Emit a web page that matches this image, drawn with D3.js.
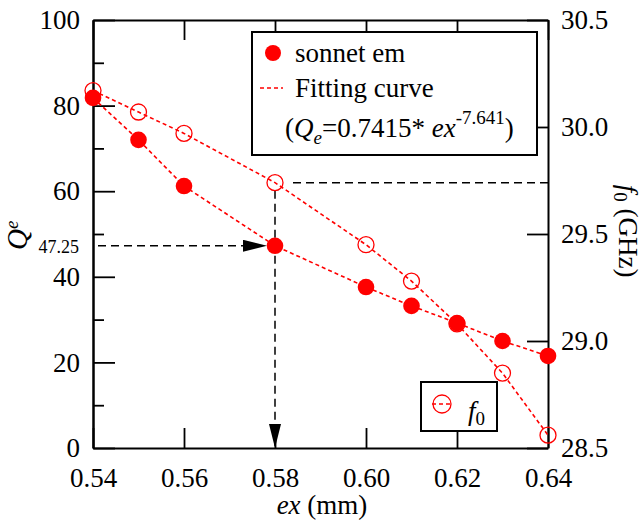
<!DOCTYPE html>
<html>
<head>
<meta charset="utf-8">
<script src="https://cdn.jsdelivr.net/npm/d3@7"></script>
</head>
<body style="margin:0; background:#fff">
<div id="chart"></div>
<script>
// data
const exVals = [0.54, 0.55, 0.56, 0.58, 0.60, 0.61, 0.62, 0.63, 0.64];
const qeVals = [81.8, 72.0, 61.2, 47.25, 37.6, 33.2, 29.2, 25.0, 21.5];
const f0Vals = [30.17, 30.07, 29.97, 29.74, 29.45, 29.28, 29.08, 28.85, 28.56];

const xTicks = [0.54, 0.56, 0.58, 0.60, 0.62, 0.64];
const leftTicks = [0, 20, 40, 60, 80, 100];
const leftMinor = [10, 30, 50, 70, 90];
const rightTicks = [28.5, 29.0, 29.5, 30.0, 30.5];

// marked point
const markEx = 0.58;
const markQe = 47.25;
const markF0 = 29.74;

const w = 643, h = 523;
const padL = 93, padR = 548, padT = 20, padB = 448;

const svg = d3.select("#chart").append("svg")
  .attr("width", w).attr("height", h);

const x = d3.scaleLinear().domain([0.54, 0.64]).range([padL, padR]);
const yL = d3.scaleLinear().domain([0, 100]).range([padB, padT]);
const yR = d3.scaleLinear().domain([28.5, 30.5]).range([padB, padT]);

const red = "#ff0000";

// axes
svg.append("g")
  .attr("transform", "translate(0," + padB + ")")
  .call(d3.axisBottom(x).tickValues(xTicks).tickSize(-20).tickSizeOuter(0)
    .tickPadding(20).tickFormat(d3.format(".2f")));

svg.append("g")
  .attr("transform", "translate(0," + padT + ")")
  .call(d3.axisTop(x).tickValues(xTicks).tickSize(-20).tickSizeOuter(0)
    .tickFormat(""));

svg.append("g")
  .attr("transform", "translate(" + padL + ",0)")
  .call(d3.axisLeft(yL).tickValues(leftTicks).tickSize(-22).tickSizeOuter(0)
    .tickPadding(13));

svg.append("g")
  .attr("transform", "translate(" + padL + ",0)")
  .call(d3.axisLeft(yL).tickValues(leftMinor).tickSize(-11).tickSizeOuter(0)
    .tickFormat(""));

svg.append("g")
  .attr("transform", "translate(" + padR + ",0)")
  .call(d3.axisRight(yR).tickValues(rightTicks).tickSize(-21).tickSizeOuter(0)
    .tickPadding(13).tickFormat(d3.format(".1f")));

svg.selectAll(".domain").attr("stroke-width", 2);
svg.selectAll(".tick line").attr("stroke-width", 1.8);
svg.selectAll(".tick text").attr("font-size", 27);

// 47.25 label on left axis
svg.append("text")
  .attr("x", padL - 14).attr("y", yL(markQe) + 7)
  .attr("text-anchor", "end").attr("font-size", 18)
  .text("47.25");

// guide lines
svg.append("defs").append("marker")
  .attr("id", "arrow").attr("viewBox", "0 0 24 12")
  .attr("refX", 24).attr("refY", 6)
  .attr("markerWidth", 24).attr("markerHeight", 12)
  .attr("markerUnits", "userSpaceOnUse")
  .attr("orient", "auto")
  .append("path").attr("d", "M0,0 L24,6 L0,12 Z").attr("fill", "#000");

svg.append("line")
  .attr("x1", padL + 5).attr("x2", x(markEx) - 8)
  .attr("y1", yL(markQe)).attr("y2", yL(markQe))
  .attr("stroke", "#000").attr("stroke-width", 1.5)
  .attr("stroke-dasharray", "8,5").attr("marker-end", "url(#arrow)");

svg.append("line")
  .attr("x1", x(markEx)).attr("x2", x(markEx))
  .attr("y1", yR(markF0) + 8).attr("y2", padB)
  .attr("stroke", "#000").attr("stroke-width", 1.5)
  .attr("stroke-dasharray", "8,5").attr("marker-end", "url(#arrow)");

svg.append("line")
  .attr("x1", x(markEx) + 18).attr("x2", padR)
  .attr("y1", yR(markF0)).attr("y2", yR(markF0))
  .attr("stroke", "#000").attr("stroke-width", 1.5)
  .attr("stroke-dasharray", "8,5");

// dotted red curves
const qeLine = d3.line().x((d, i) => x(exVals[i])).y(d => yL(d));
const f0Line = d3.line().x((d, i) => x(exVals[i])).y(d => yR(d));

svg.append("path").attr("d", qeLine(qeVals))
  .attr("fill", "none").attr("stroke", red)
  .attr("stroke-width", 1.6).attr("stroke-dasharray", "4,3");

svg.append("path").attr("d", f0Line(f0Vals))
  .attr("fill", "none").attr("stroke", red)
  .attr("stroke-width", 1.6).attr("stroke-dasharray", "4,3");

// f0 open circles
svg.selectAll(".f0").data(f0Vals).enter().append("circle")
  .attr("class", "f0")
  .attr("cx", (d, i) => x(exVals[i])).attr("cy", d => yR(d))
  .attr("r", 8).attr("fill", "none")
  .attr("stroke", red).attr("stroke-width", 1.3);

// Qe filled circles
svg.selectAll(".qe").data(qeVals).enter().append("circle")
  .attr("class", "qe")
  .attr("cx", (d, i) => x(exVals[i])).attr("cy", d => yL(d))
  .attr("r", 8.3).attr("fill", red);

// main legend
const lg = svg.append("g");
lg.append("rect").attr("x", 252).attr("y", 32).attr("width", 285).attr("height", 123)
  .attr("fill", "#fff").attr("stroke", "#000").attr("stroke-width", 2);
lg.append("circle").attr("cx", 273).attr("cy", 53).attr("r", 8).attr("fill", red);
lg.append("text").attr("x", 295).attr("y", 62).attr("font-size", 27).text("sonnet em");
lg.append("line").attr("x1", 260).attr("x2", 283).attr("y1", 88).attr("y2", 88)
  .attr("stroke", red).attr("stroke-width", 1.6).attr("stroke-dasharray", "4,3");
lg.append("text").attr("x", 295).attr("y", 97).attr("font-size", 27).text("Fitting curve");
const fit = lg.append("text").attr("x", 285).attr("y", 137).attr("font-size", 27);
fit.append("tspan").text("(");
fit.append("tspan").attr("font-style", "italic").text("Q");
fit.append("tspan").attr("font-style", "italic").attr("font-size", 19).attr("dy", 7).text("e");
fit.append("tspan").attr("dy", -7).text("=0.7415* ");
fit.append("tspan").attr("font-style", "italic").text("ex");
fit.append("tspan").attr("font-size", 19).attr("dy", -13).text("-7.641");
fit.append("tspan").attr("dy", 13).text(")");

// f0 legend
const lg2 = svg.append("g");
lg2.append("rect").attr("x", 421).attr("y", 382).attr("width", 76).attr("height", 49)
  .attr("fill", "#fff").attr("stroke", "#000").attr("stroke-width", 2);
lg2.append("line").attr("x1", 432).attr("x2", 453).attr("y1", 404).attr("y2", 404)
  .attr("stroke", red).attr("stroke-width", 1.6).attr("stroke-dasharray", "4,3");
lg2.append("circle").attr("cx", 442).attr("cy", 404).attr("r", 9)
  .attr("fill", "none").attr("stroke", red).attr("stroke-width", 1.3);
const fl = lg2.append("text").attr("x", 468).attr("y", 420).attr("font-size", 27);
fl.append("tspan").attr("font-style", "italic").text("f");
fl.append("tspan").attr("font-size", 19).attr("dy", 5).text("0");

// axis titles
const xt = svg.append("text").attr("x", 322).attr("y", 514)
  .attr("text-anchor", "middle").attr("font-size", 27);
xt.append("tspan").attr("font-style", "italic").text("ex");
xt.append("tspan").text(" (mm)");

const qt = svg.append("text")
  .attr("transform", "translate(27,250) rotate(-90)")
  .attr("font-size", 29);
qt.append("tspan").attr("font-style", "italic").text("Q");
qt.append("tspan").attr("font-style", "italic").attr("font-size", 19).attr("dy", -9).text("e");

const ft = svg.append("text")
  .attr("transform", "translate(619,231) rotate(90)")
  .attr("text-anchor", "middle").attr("font-size", 27);
ft.append("tspan").attr("font-style", "italic").text("f");
ft.append("tspan").attr("font-size", 19).attr("dy", 5).text("0");
ft.append("tspan").attr("dy", -5).text(" (GHz)");

// serif everywhere, inline so nothing overrides it
svg.selectAll("text, tspan").style("font-family", "'Liberation Serif', serif");
</script>
</body>
</html>
